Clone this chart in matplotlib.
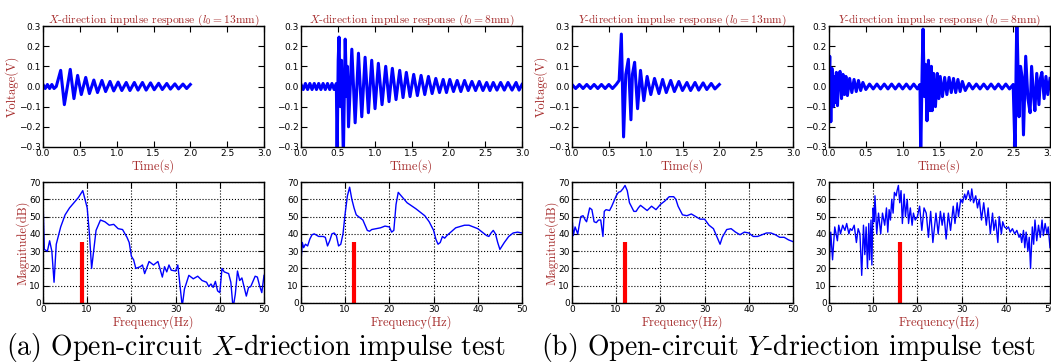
"""Impulse response and spectrum panels."""

import matplotlib
matplotlib.use('Agg')
import matplotlib.pyplot as plt


# time domain peaks (s, V)
x13_t = [0.00, 0.03, 0.06, 0.09, 0.12, 0.15, 0.18, 0.24, 0.29, 0.37, 0.42, 0.47, 0.52, 0.58, 0.63, 0.69, 0.74, 0.80, 0.85, 0.91, 0.96,
         1.02, 1.07, 1.13, 1.18, 1.24, 1.29, 1.35, 1.40, 1.46, 1.51, 1.57, 1.62, 1.68, 1.73, 1.79, 1.84, 1.90, 1.95, 2.00]
x13_v = [0.01, -0.01, 0.01, -0.01, 0.01, -0.01, 0.00, 0.08, -0.09, 0.085, -0.06, 0.055, -0.04, 0.045, -0.035, 0.032, -0.03, 0.03, -0.025, 0.025, -0.022,
         0.022, -0.02, 0.02, -0.02, 0.02, -0.018, 0.02, -0.018, 0.018, -0.016, 0.016, -0.015, 0.015, -0.013, 0.013, -0.012, 0.012, -0.01, 0.01]

x8_t = [0.00, 0.03, 0.06, 0.09, 0.12, 0.15, 0.18, 0.21, 0.24, 0.27, 0.30, 0.33, 0.36, 0.39, 0.42, 0.45, 0.48,
        0.49, 0.505, 0.516, 0.535, 0.55, 0.575, 0.60, 0.62, 0.63, 0.645,
        0.69, 0.735, 0.78, 0.825, 0.87, 0.915, 0.96, 1.005, 1.05, 1.10,
        1.15, 1.195, 1.24, 1.29, 1.34, 1.385, 1.43, 1.48, 1.53, 1.58,
        1.63, 1.68, 1.73, 1.78, 1.83, 1.88, 1.93, 1.975, 2.02, 2.07,
        2.12, 2.17, 2.22, 2.27, 2.32, 2.37, 2.42, 2.47, 2.52, 2.565,
        2.61, 2.66, 2.71, 2.76, 2.81, 2.865, 2.92, 2.96, 3.00]
x8_v = [0.01, -0.015, 0.015, -0.015, 0.015, -0.015, 0.015, -0.015, 0.015, -0.015, 0.015, -0.015, 0.015, -0.015, 0.015, -0.015, 0.015,
        -0.35, 0.13, 0.245, -0.1, 0.13, -0.35, 0.235, -0.05, 0.1, -0.2,
        0.185, -0.18, 0.165, -0.15, 0.145, -0.13, 0.13, -0.11, 0.115, -0.09,
        0.10, -0.075, 0.09, -0.065, 0.08, -0.055, 0.07, -0.05, 0.06, -0.045,
        0.055, -0.04, 0.05, -0.035, 0.04, -0.03, 0.035, -0.03, 0.035, -0.025,
        0.03, -0.025, 0.03, -0.02, 0.025, -0.02, 0.025, -0.02, 0.02, -0.02,
        0.02, -0.018, 0.02, -0.018, 0.02, -0.018, 0.02, -0.018, 0.01]

y13_t = [0.00, 0.05, 0.10, 0.15, 0.20, 0.25, 0.30, 0.35, 0.40, 0.45, 0.50, 0.55, 0.60,
         0.64, 0.67, 0.70, 0.73, 0.765, 0.80, 0.82, 0.85, 0.89, 0.93, 0.975,
         1.02, 1.07, 1.12, 1.18, 1.23, 1.28, 1.34, 1.39, 1.45, 1.50, 1.56, 1.61, 1.67, 1.72, 1.78, 1.83, 1.89, 1.94, 2.00]
y13_v = [0.01, -0.01, 0.01, -0.01, 0.01, -0.01, 0.01, -0.01, 0.01, -0.01, 0.01, -0.01, 0.01,
         0.03, 0.26, -0.25, 0.06, 0.135, -0.165, 0.06, 0.12, -0.11, 0.08, -0.07,
         0.05, -0.04, 0.04, -0.035, 0.035, -0.03, 0.03, -0.025, 0.025, -0.02, 0.02, -0.02, 0.02, -0.018, 0.018, -0.015, 0.015, -0.012, 0.01]

y8_t = [0.00, 0.01, 0.025, 0.04, 0.055, 0.07, 0.085, 0.10, 0.115, 0.13,
        0.15, 0.17, 0.19, 0.21, 0.23, 0.25, 0.28, 0.31, 0.34, 0.37, 0.40, 0.43, 0.46, 0.50,
        0.55, 0.60, 0.65, 0.70, 0.75, 0.80, 0.85, 0.90, 0.95, 1.00, 1.05, 1.10, 1.15, 1.20, 1.235,
        1.245, 1.265, 1.277, 1.295, 1.31, 1.33, 1.35, 1.37, 1.39, 1.40,
        1.42, 1.445, 1.47, 1.49, 1.51, 1.54, 1.57, 1.60, 1.63, 1.66,
        1.69, 1.72, 1.75, 1.78, 1.81, 1.85,
        1.90, 1.95, 2.00, 2.05, 2.10, 2.15, 2.20, 2.25, 2.30, 2.35, 2.40, 2.45, 2.50,
        2.527, 2.54, 2.55, 2.58, 2.60, 2.62, 2.64, 2.67, 2.70, 2.73,
        2.75, 2.78, 2.795, 2.82, 2.85, 2.87, 2.89, 2.92, 2.945, 2.97, 3.00]
y8_v = [0.00, 0.15, -0.175, 0.09, -0.10, 0.05, -0.08, 0.07, -0.095, 0.05,
        0.075, -0.06, 0.06, -0.04, 0.05, -0.045, 0.04, -0.03, 0.035, -0.025, 0.03, -0.02, 0.02, -0.015,
        0.012, -0.012, 0.012, -0.012, 0.012, -0.012, 0.012, -0.012, 0.012, -0.012, 0.012, -0.012, 0.012, -0.012, 0.01,
        -0.35, 0.1, 0.285, -0.05, 0.11, -0.17, 0.13, -0.12, 0.1, -0.12,
        0.065, -0.1, 0.065, -0.06, 0.05, -0.05, 0.045, -0.04, 0.045, -0.03,
        0.04, -0.03, 0.035, -0.025, 0.025, -0.02,
        0.015, -0.012, 0.012, -0.012, 0.012, -0.012, 0.012, -0.012, 0.012, -0.012, 0.012, -0.012, 0.01,
        -0.35, 0.1, 0.35, -0.15, 0.1, 0.05, -0.24, 0.15, -0.06, -0.13,
        0.1, -0.06, -0.12, 0.065, -0.09, 0.04, 0.07, -0.06, 0.05, -0.04, 0.04]

# spectra (Hz, dB)
x13_f = [0, 0.3, 1, 1.5, 2, 2.5, 3, 4, 5, 6, 7, 8, 8.5, 9, 9.5, 10, 10.5, 11, 12, 13, 14, 15, 16, 17, 18, 19, 19.5,
         20, 20.5, 21, 22, 22.5, 23, 24, 25, 26, 27, 27.5, 28, 28.5, 29, 30, 30.5, 31, 31.5, 32, 33,
         34, 35, 36, 37, 37.5, 38, 38.5, 39, 39.5, 40, 40.5, 41, 42, 42.5, 43, 43.5, 44, 44.5, 45, 46,
         46.5, 47, 48, 48.5, 49, 49.5, 50]
x13_m = [60, 31, 30, 36, 30, 12, 34, 44, 51, 55, 58, 61, 63, 65, 60, 55, 40, 20, 42, 48, 47, 45, 45.5, 43, 42.5, 38, 35,
         27, 25, 20, 21, 22, 17, 24, 22, 24, 15, 21, 18, 22, 19, 18.5, 22, 10, -2, 8, 16,
         14, 15.5, 13, 12, 9.5, 11, 9, 12.5, 7, 6, 20, 18, 17, 12, -3, 5, 18.5, 13, 14.5, 4,
         9, 9.5, 15.5, 15, 10, 6, 16]

x8_f = [0, 0.3, 0.6, 1, 1.5, 2, 2.5, 3, 4, 5, 5.5, 6, 6.5, 7, 7.5, 8, 8.5, 9, 9.5, 10,
        10.5, 11, 11.5, 12, 12.5, 13, 14, 15, 15.5, 16, 17, 18, 19, 20, 20.5, 21, 21.5, 22, 23, 24,
        26, 28, 29, 30, 30.5, 31, 31.5, 32, 32.5, 33, 35, 37, 38, 40, 42, 42.5, 43, 43.5, 44, 44.5,
        45, 46, 47, 48, 49, 50]
x8_m = [24, 35, 32, 34, 33, 37, 39.5, 40, 38.5, 38.5, 38, 33, 36, 40, 40.5, 39, 33, 34, 40, 52,
        62, 67, 60, 55, 51, 50, 48, 42, 41.5, 42.5, 43, 43.5, 44.5, 44, 41, 42, 57, 64, 61, 58,
        54.5, 50.5, 47, 42, 37, 34, 35, 38.5, 37.5, 39, 43.5, 45, 45, 43, 39, 38.5, 40.5, 42, 40, 35,
        31, 35, 38.5, 40.5, 41, 40.5]

y13_f = [0, 0.3, 0.7, 1, 1.3, 1.7, 2, 2.5, 3, 3.3, 4, 4.5, 5, 5.5, 6, 6.5, 7, 7.3, 7.7, 8.5,
         9, 10, 10.5, 11, 11.5, 12, 12.5, 13, 14, 14.5, 15, 15.5, 16, 17, 18, 18.5, 19, 20, 21, 22,
         23, 23.5, 24, 25, 26, 27, 28, 29, 30, 31, 32, 33, 33.5, 34, 35, 36, 37, 38, 39, 40,
         41, 42, 43, 44, 45, 46, 47, 48, 49, 50]
y13_m = [50, 39, 44, 42, 40, 46, 50, 50.5, 48, 47, 55, 54, 47, 46.5, 48, 48, 38.5, 53, 54, 53.5,
         56, 62, 64, 64.5, 66, 68, 65, 58, 53, 53, 55, 56.5, 55.5, 53.5, 56, 55, 54, 57, 59, 61.5,
         61.5, 60, 56, 51, 50.5, 51.5, 50, 48.5, 48.5, 45, 43, 37, 34, 38, 42.5, 43, 41, 39.5, 41, 40.5,
         38.5, 38.5, 39.5, 40.5, 40.5, 39.5, 38, 38, 36.5, 35.5]

y8_f = [0, 0.4, 0.8, 1.3, 1.9, 2.2, 2.6, 3.1, 3.6, 4.0, 4.5, 4.8, 5.2, 5.7, 6.2, 6.6, 7.0, 7.4, 7.8, 8.1,
        8.4, 8.7, 9.0, 9.2, 9.5, 9.7, 9.9, 10.0, 10.2, 10.4, 10.8, 11.2, 11.7, 12.1, 12.6, 13.0, 13.3, 13.6, 13.9, 14.2,
        14.5, 14.8, 15.2, 15.4, 15.7, 16.0, 16.3, 16.6, 17.0, 17.3, 17.7, 18.0, 18.4, 18.8, 19.1, 19.5, 20.0, 20.5, 21.0, 21.5,
        22.0, 22.5, 23.0, 23.5, 24.2, 24.7, 25.2, 25.6, 26.0, 26.5, 27.0, 27.5, 28.1, 28.5, 29.0, 29.3, 29.8, 30.2, 30.7, 31.0,
        31.5, 32.0, 32.3, 32.7, 33.2, 33.6, 34.0, 34.5, 35.0, 35.6, 36.0, 36.5, 37.0, 37.3, 37.7, 38.2, 38.5, 39.0, 39.3, 39.7,
        40.2, 40.6, 41.0, 41.5, 42.0, 42.5, 43.0, 43.3, 43.6, 44.0, 44.3, 44.6, 45.0, 45.3, 45.6, 46.0, 46.3, 46.6, 47.0, 47.4,
        47.8, 48.2, 48.5, 48.9, 49.3, 49.6, 50.0]
y8_m = [20, 41, 25, 44, 36, 45, 40, 45, 42, 46, 40, 43, 42, 45, 35, 43, 40, 16, 45, 28,
        44, 20, 46, 25, 48, 22, 48, 55, 47, 62, 40, 52, 40, 52, 45, 55, 41, 54, 48, 60,
        52, 64, 62, 65, 68, 58, 65, 46, 63, 50, 60, 46, 55, 45, 52, 48, 50, 56, 42, 55,
        52, 38, 53, 35, 52, 40, 53, 45, 52, 37, 52, 42, 56, 46, 58, 50, 60, 58, 63, 60,
        65, 59, 66, 58, 62, 55, 60, 48, 58, 45, 55, 40, 52, 42, 48, 35, 50, 40, 47, 44,
        43, 44, 41, 43, 40, 42, 38, 40, 35, 42, 32, 41, 30, 38, 20, 44, 34, 48, 36, 45,
        38, 48, 39, 46, 40, 44, 32]

# resonance markers (Hz)
res_freq = [8.8, 12.0, 12.0, 16.0]
res_height = 35.5

titles = [r'$X$-direction impulse response ($l_0=13$mm)',
          r'$X$-direction impulse response ($l_0=8$mm)',
          r'$Y$-direction impulse response ($l_0=13$mm)',
          r'$Y$-direction impulse response ($l_0=8$mm)']
captions = [r'(a) Open-circuit $X$-driection impulse test',
            r'(b) Open-circuit $Y$-driection impulse test']

red = '#a52a2a'
serif = 'cmr10'

plt.rcParams['mathtext.fontset'] = 'cm'
plt.rcParams['font.family'] = 'DejaVu Sans'

W, H = 1051, 363
fig = plt.figure(figsize=(W / 100, H / 100), dpi=100)

lefts = [43, 301, 572, 829]
width = 221
top_row = [(x13_t, x13_v), (x8_t, x8_v), (y13_t, y13_v), (y8_t, y8_v)]
bot_row = [(x13_f, x13_m), (x8_f, x8_m), (y13_f, y13_m), (y8_f, y8_m)]


def style_ticks(ax):
  ax.tick_params(direction='in', top=True, right=True, length=4, width=0.8,
                 labelsize=6.5, pad=1.5)
  for s in ax.spines.values():
    s.set_linewidth(1.0)


for i in range(4):
  # top: time response
  ax = fig.add_axes([lefts[i] / W, (H - 147) / H, width / W, 121 / H])
  t, v = top_row[i]
  ax.plot(t, v, color='#0000ff', lw=2.2)
  ax.set_xlim(0, 3)
  ax.set_ylim(-0.3, 0.3)
  ax.set_xticks([0, 0.5, 1.0, 1.5, 2.0, 2.5, 3.0])
  ax.set_yticks([-0.3, -0.2, -0.1, 0.0, 0.1, 0.2, 0.3])
  style_ticks(ax)
  ax.set_title(titles[i], color=red, family=serif, fontsize=8.3, pad=2)
  ax.set_xlabel('Time(s)', color=red, family=serif, fontsize=9, labelpad=1)
  if i in (0, 2):
    ax.set_ylabel('Voltage(V)', color=red, family=serif, fontsize=9, labelpad=0)

  # bottom: spectrum
  ax = fig.add_axes([lefts[i] / W, (H - 303) / H, width / W, 121 / H])
  f, m = bot_row[i]
  ax.plot(f, m, color='#0000ff', lw=1.0)
  ax.plot([res_freq[i], res_freq[i]], [0, res_height], color='#ff0000', lw=3, solid_capstyle='butt')
  ax.set_xlim(0, 50)
  ax.set_ylim(0, 70)
  ax.set_xticks([0, 10, 20, 30, 40, 50])
  ax.set_yticks([0, 10, 20, 30, 40, 50, 60, 70])
  ax.grid(True, color='black', linestyle=':', linewidth=0.8)
  style_ticks(ax)
  ax.set_xlabel('Frequency(Hz)', color=red, family=serif, fontsize=9, labelpad=1)
  if i in (0, 2):
    ax.set_ylabel('Magnitude(dB)', color=red, family=serif, fontsize=9, labelpad=0)

fig.text(256 / W, 1 - 348 / H, captions[0], ha='center', va='center', family=serif, fontsize=20)
fig.text(788 / W, 1 - 348 / H, captions[1], ha='center', va='center', family=serif, fontsize=20)

fig.savefig('out.png', dpi=100)
